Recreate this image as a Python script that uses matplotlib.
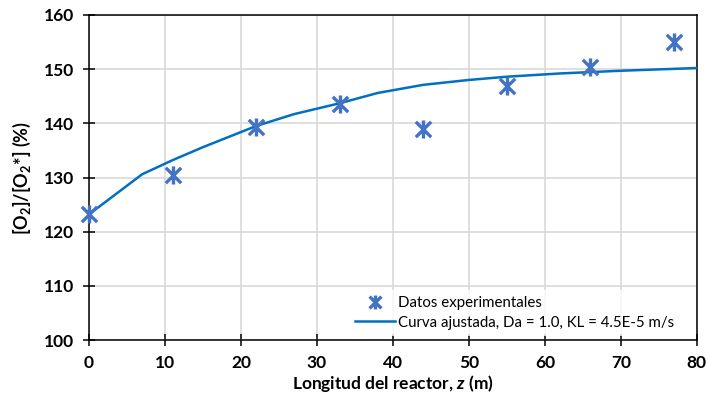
import matplotlib
matplotlib.use("Agg")
import matplotlib.pyplot as plt
from matplotlib.path import Path

plt.rcParams["font.family"] = ["Lato", "DejaVu Sans"]
plt.rcParams["mathtext.fontset"] = "custom"
plt.rcParams["mathtext.rm"] = "Lato:bold"
plt.rcParams["mathtext.bf"] = "Lato:bold"
plt.rcParams["mathtext.it"] = "Lato:italic:bold"

# datos experimentales
z_exp = [0, 11, 22, 33, 44, 55, 66, 77]
o2_exp = [123.2, 130.5, 139.4, 143.6, 138.9, 146.8, 150.4, 155.0]

# curva ajustada (Da = 1.0, KL = 4.5E-5 m/s)
z_fit = [0, 7, 11, 15, 22, 27, 33, 38, 44, 50, 55, 62, 70, 80]
o2_fit = [123.2, 130.6, 133.2, 135.6, 139.5, 141.7, 143.7, 145.6, 147.1,
          148.0, 148.6, 149.2, 149.7, 150.2]

xticks = [0, 10, 20, 30, 40, 50, 60, 70, 80]
yticks = [100, 110, 120, 130, 140, 150, 160]

# asterisco tipo Excel: X con barra vertical
star = Path([(0, -1), (0, 1), (-0.85, -0.85), (0.85, 0.85), (-0.85, 0.85), (0.85, -0.85)],
            [Path.MOVETO, Path.LINETO] * 3)

fig = plt.figure(figsize=(7.06, 4.03), dpi=100)
ax = fig.add_axes([0.126, 0.156, 0.861, 0.807])

ax.plot(z_fit, o2_fit, "-", color="#0070C0", lw=1.8, zorder=3,
        label="Curva ajustada, Da = 1.0, KL = 4.5E-5 m/s")
ax.plot(z_exp, o2_exp, ls="none", marker=star, ms=13, mew=2.4,
        color="#4472C4", zorder=4, clip_on=False, label="Datos experimentales")

ax.set_xlim(0, 80)
ax.set_ylim(100, 160)
ax.set_xticks(xticks)
ax.set_yticks(yticks)
ax.grid(True, color="#d9d9d9", lw=1.2, zorder=0)
ax.set_axisbelow(True)
for s in ax.spines.values():
    s.set_color("black")
    s.set_linewidth(1.1)
ax.tick_params(direction="inout", length=9, width=1.1, labelsize=12.5, pad=6)
for lbl in ax.get_xticklabels() + ax.get_yticklabels():
    lbl.set_fontweight("bold")

ax.set_xlabel(r"Longitud del reactor, $z$ (m)", fontsize=12.5, fontweight="bold", labelpad=2)
ax.set_ylabel(r"[O$_2$]/[O$_2$*] (%)", fontsize=13, fontweight="bold", labelpad=8)

h, l = ax.get_legend_handles_labels()
leg = ax.legend(h[::-1], l[::-1], loc="lower right", bbox_to_anchor=(0.98, 0.0),
                fontsize=10.8, frameon=True, fancybox=False, handlelength=2.7,
                handletextpad=0.2, borderaxespad=0.3, labelspacing=0.35)
leg.get_frame().set_edgecolor("none")
leg.get_frame().set_facecolor("white")
leg.legend_handles[0].set_markersize(10)

fig.savefig("out.png", dpi=100)
